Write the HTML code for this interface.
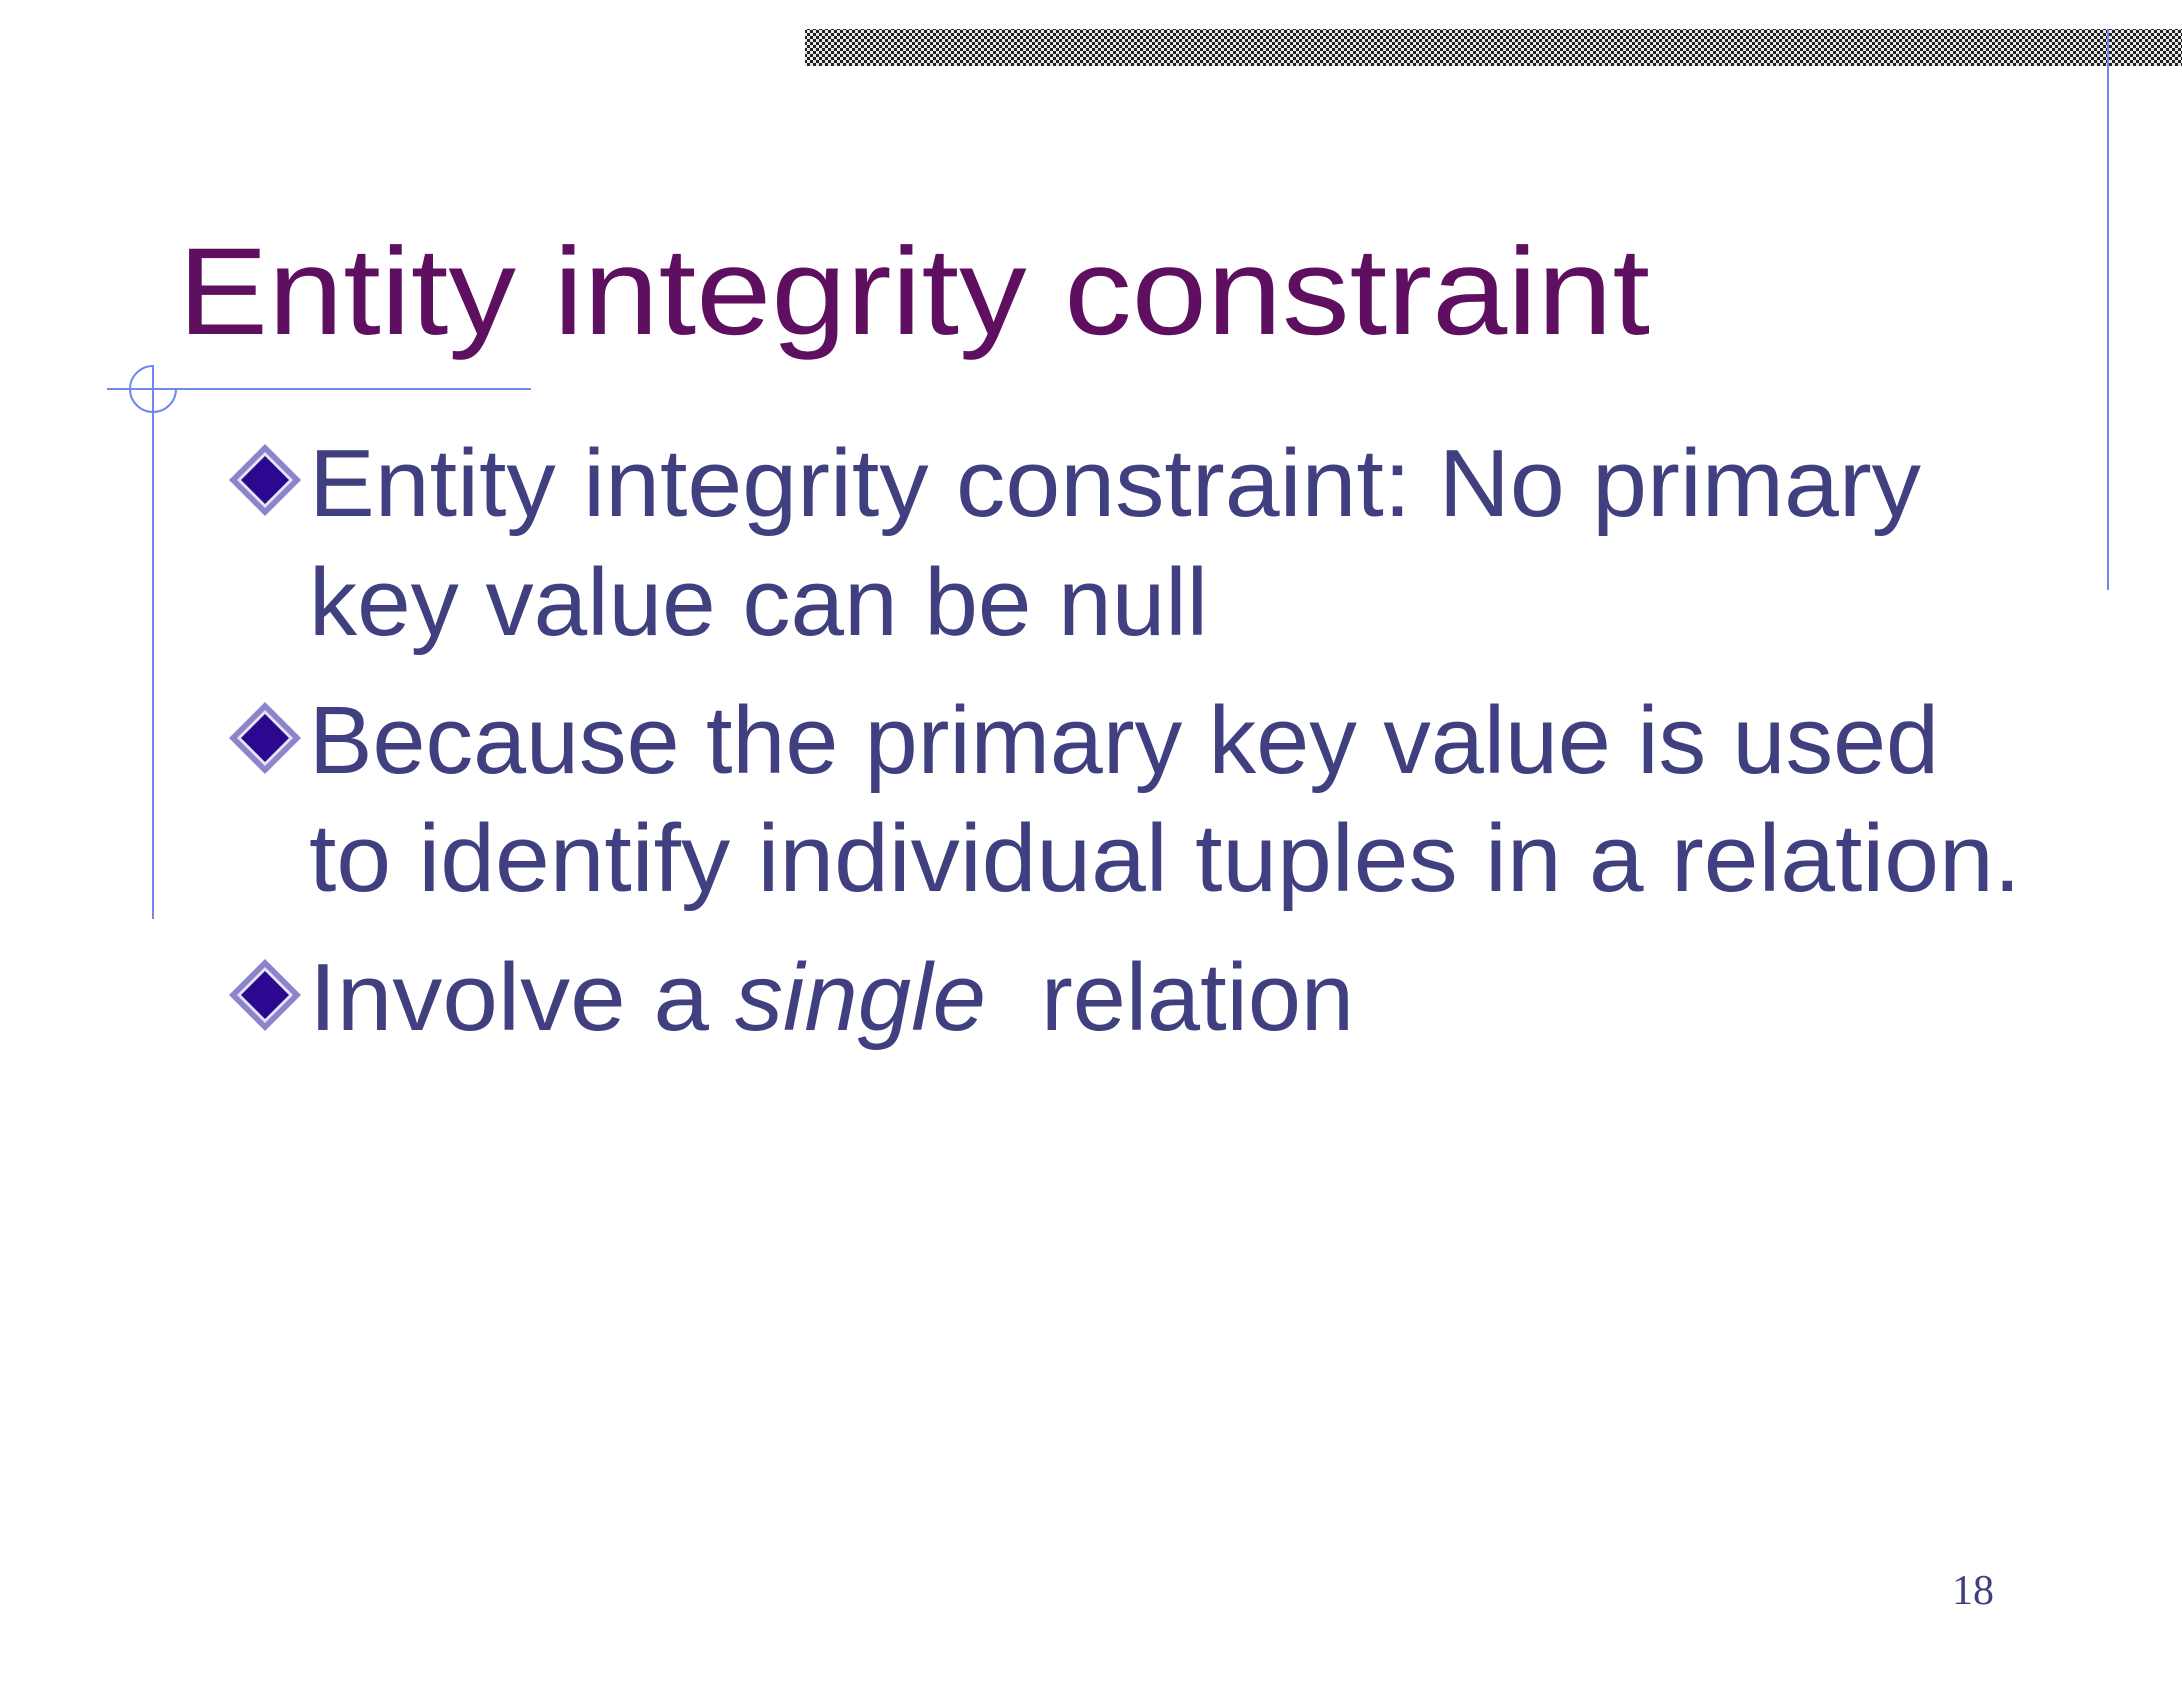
<!DOCTYPE html>
<html><head><meta charset="utf-8"><style>
html,body{margin:0;padding:0;background:#fff;}
svg{display:block;}
</style></head><body>
<svg width="2182" height="1688" viewBox="0 0 2182 1688" xmlns="http://www.w3.org/2000/svg">
<defs>
<pattern id="chk" width="6" height="6" patternUnits="userSpaceOnUse">
<rect width="6" height="6" fill="#e8e8e8"/>
<path d="M0 0h3v3h-3zM3 3h3v3h-3z" fill="#222"/>
</pattern>
</defs>
<rect x="805" y="29" width="1377" height="37" fill="url(#chk)"/>
<line x1="2108" y1="29" x2="2108" y2="590" stroke="#7088ee" stroke-width="2"/>
<line x1="107" y1="389" x2="531" y2="389" stroke="#7088ee" stroke-width="2"/>
<line x1="153" y1="365" x2="153" y2="919" stroke="#7088ee" stroke-width="2"/>
<path d="M153 366 A23 23 0 1 0 176 389" fill="none" stroke="#7088ee" stroke-width="2"/>
<text x="178" y="334" font-family="Liberation Sans, sans-serif" font-size="124" fill="#5f0f5f" textLength="1472" lengthAdjust="spacingAndGlyphs">Entity integrity constraint</text>
<g>
<path d="M265 444 L301 480 L265 516 L229 480Z" fill="#8c84cc"/>
<path d="M265 452 L293 480 L265 508 L237 480Z" fill="#e8e4f4"/>
<path d="M265 456 L289 480 L265 504 L241 480Z" fill="#2a0890"/>
</g>
<g>
<path d="M265 702 L301 738 L265 774 L229 738Z" fill="#8c84cc"/>
<path d="M265 710 L293 738 L265 766 L237 738Z" fill="#e8e4f4"/>
<path d="M265 714 L289 738 L265 762 L241 738Z" fill="#2a0890"/>
</g>
<g>
<path d="M265 959 L301 995 L265 1031 L229 995Z" fill="#8c84cc"/>
<path d="M265 967 L293 995 L265 1023 L237 995Z" fill="#e8e4f4"/>
<path d="M265 971 L289 995 L265 1019 L241 995Z" fill="#2a0890"/>
</g>
<g font-family="Liberation Sans, sans-serif" font-size="96" fill="#404080">
<text x="309" y="516" textLength="1612" lengthAdjust="spacingAndGlyphs">Entity integrity constraint: No primary</text>
<text x="309" y="635" textLength="899" lengthAdjust="spacingAndGlyphs">key value can be null</text>
<text x="309" y="773" textLength="1630" lengthAdjust="spacingAndGlyphs">Because the primary key value is used</text>
<text x="309" y="891" textLength="1712" lengthAdjust="spacingAndGlyphs">to identify individual tuples in a relation.</text>
<text x="309" y="1030" textLength="400" lengthAdjust="spacingAndGlyphs">Involve a</text>
<text x="735" y="1030" font-style="italic" textLength="251" lengthAdjust="spacingAndGlyphs">single</text>
<text x="1041" y="1030" textLength="313" lengthAdjust="spacingAndGlyphs">relation</text>
</g>
<text x="1952" y="1604" font-family="Liberation Serif, serif" font-size="42" fill="#404080">18</text>
</svg>
</body></html>
